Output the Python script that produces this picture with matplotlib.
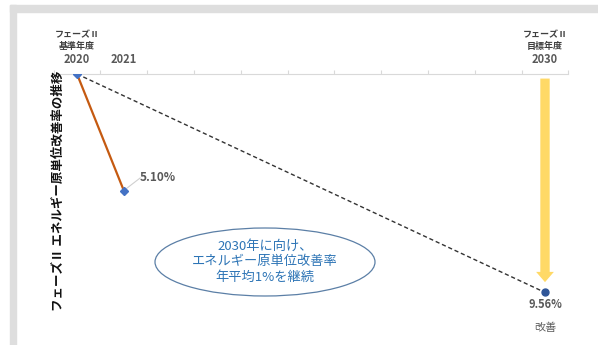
import numpy as np
import matplotlib.pyplot as plt
from matplotlib.patches import Rectangle, Ellipse, FancyArrow

plt.rcParams['font.family'] = ['Noto Sans CJK JP', 'DejaVu Sans']

# data
actual_years = [2020, 2021]
actual_rates = [0.0, 5.10]
target_years = [2020, 2030]
target_rates = [0.0, 9.56]
label_years = [2020, 2021, 2030]
label_texts = ["2020", "2021", "2030"]

W, H = 598, 345
fig = plt.figure(figsize=(W / 100, H / 100), dpi=100)

# light grey frame (top + left)
fig.patches.append(Rectangle((10 / W, (H - 12) / H), (W - 10) / W, 7 / H,
                             transform=fig.transFigure, color="#dedede", zorder=0))
fig.patches.append(Rectangle((10 / W, 0), 6 / W, (H - 5) / H,
                             transform=fig.transFigure, color="#dedede", zorder=0))

x0, x1 = 53.6, 568.4
ytop, ybot = 74, 345
ax = fig.add_axes([x0 / W, (H - ybot) / H, (x1 - x0) / W, (ybot - ytop) / H])
ax.set_xlim(2019.5, 2030.5)
ax.set_ylim((ybot - ytop) / 22.85, 0)
ax.patch.set_alpha(0)
for s in ["left", "right", "bottom"]:
    ax.spines[s].set_visible(False)
ax.spines["top"].set_color("#d9d9d9")
ax.spines["top"].set_linewidth(0.8)
ax.xaxis.tick_top()
ax.set_xticks(np.arange(2019.5, 2031, 1.0))
ax.set_xticklabels([])
ax.tick_params(axis="x", length=3, color="#d9d9d9", width=0.8)
ax.set_yticks([])

# target dashed line
ax.plot(target_years, target_rates, ls=(0, (3, 2)), color="#333333", lw=1.0, zorder=2)
# actual line
ax.plot(actual_years, actual_rates, color="#c55a11", lw=1.6, zorder=3)
ax.plot(actual_years, actual_rates, ls="none", marker="D", ms=4.5, color="#4472c4", zorder=4)
ax.plot(target_years[1], target_rates[1], ls="none", marker="o", ms=5, color="#2f5597", zorder=4)

# yellow arrow
ax.add_patch(FancyArrow(target_years[1], 0.2, 0, target_rates[1] - 0.65,
                        width=0.2, head_width=0.38, head_length=0.45,
                        length_includes_head=True, color="#ffd966", lw=0, zorder=1))

# year labels above axis
for yr, t in zip(label_years, label_texts):
    ax.text(yr, -0.65, t, ha="center", va="center", fontsize=8, color="#595959",
            fontweight="bold")
ax.text(2020, -1.7, "フェーズⅡ", ha="center", va="center", fontsize=6.5, color="#404040", fontweight="bold")
ax.text(2020, -1.2, "基準年度", ha="center", va="center", fontsize=6.5, color="#404040", fontweight="bold")
ax.text(2030, -1.7, "フェーズⅡ", ha="center", va="center", fontsize=6.5, color="#404040", fontweight="bold")
ax.text(2030, -1.2, "目標年度", ha="center", va="center", fontsize=6.5, color="#404040", fontweight="bold")

# data labels
ax.plot([2021, 2021.35], [5.10, 4.55], color="#d0d0d0", lw=0.8, zorder=2)
ax.text(2021.35, 4.55, "5.10%", ha="left", va="center", fontsize=8.5, color="#595959", fontweight="bold")
ax.text(2030, 10.1, "9.56%", ha="center", va="center", fontsize=8, color="#595959", fontweight="bold")
ax.text(2030, 11.1, "改善", ha="center", va="center", fontsize=8, color="#595959")

# ellipse callout
fig.patches.append(Ellipse((265 / W, (H - 262) / H), 220 / W, 68 / H,
                           transform=fig.transFigure, facecolor="white",
                           edgecolor="#5b7fa6", lw=0.9, zorder=5))
fig.text(265 / W, (H - 262) / H, "2030年に向け、\nエネルギー原単位改善率\n年平均1%を継続",
         ha="center", va="center", fontsize=9.5, color="#2e75b6", linespacing=1.25, zorder=6)

# vertical title
fig.text(58 / W, (H - 191) / H, "フェーズⅡ エネルギー原単位改善率の推移", rotation=90,
         ha="center", va="center", fontsize=9, fontweight="bold", color="#111111")

fig.savefig("out.png", dpi=100)
